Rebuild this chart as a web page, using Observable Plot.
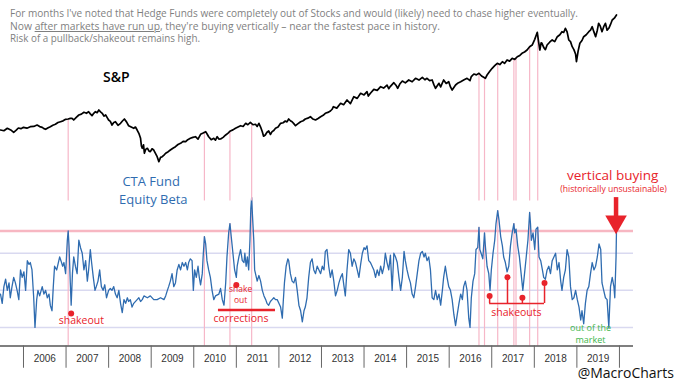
<!DOCTYPE html>
<html><head><meta charset="utf-8">
<script src="https://cdn.jsdelivr.net/npm/d3@7"></script>
<script src="https://cdn.jsdelivr.net/npm/@observablehq/plot@0.6"></script>
<style>
body{margin:0;background:#fff;}
#chart{position:relative;width:680px;height:383px;overflow:hidden;background:#fff;}
#chart svg{position:absolute;left:0;top:0;}
#title{position:absolute;left:10px;top:7px;font-family:"Open Sans",sans-serif;font-size:10.5px;line-height:12.5px;color:#7f7f7f;z-index:5;white-space:nowrap;}
#title div{width:max-content;transform-origin:left center;}
#title u{text-decoration-thickness:1px;text-underline-offset:1px;}
</style></head><body>
<div id="chart">
<div id="title">
<div>For months I've noted that Hedge Funds were completely out of Stocks and would (likely) need to chase higher eventually.</div>
<div>Now <u>after markets have run up</u>, they're buying vertically – near the fastest pace in history.</div>
<div>Risk of a pullback/shakeout remains high.</div>
</div>
</div>
<script>
// ---------- DATA ----------
const ctaYear = [2005.46,2005.50,2005.54,2005.58,2005.62,2005.66,2005.69,2005.73,2005.77,2005.81,2005.85,2005.89,2005.93,2005.97,2006.01,2006.05,2006.09,2006.13,2006.16,2006.20,2006.24,2006.27,2006.31,2006.34,2006.38,2006.44,2006.48,2006.52,2006.56,2006.60,2006.63,2006.67,2006.70,2006.73,2006.78,2006.81,2006.85,2006.88,2006.92,2006.95,2006.99,2007.03,2007.05,2007.07,2007.10,2007.12,2007.15,2007.18,2007.22,2007.26,2007.30,2007.34,2007.38,2007.42,2007.46,2007.50,2007.53,2007.57,2007.60,2007.64,2007.68,2007.71,2007.75,2007.79,2007.83,2007.87,2007.91,2007.95,2008.00,2008.04,2008.08,2008.12,2008.16,2008.20,2008.24,2008.28,2008.32,2008.36,2008.40,2008.44,2008.47,2008.51,2008.55,2008.59,2008.67,2008.71,2008.75,2008.79,2008.83,2008.91,2008.98,2009.06,2009.14,2009.22,2009.30,2009.34,2009.38,2009.41,2009.45,2009.49,2009.53,2009.57,2009.61,2009.65,2009.69,2009.73,2009.77,2009.81,2009.85,2009.88,2009.92,2009.96,2009.99,2010.02,2010.06,2010.10,2010.13,2010.16,2010.20,2010.22,2010.25,2010.28,2010.31,2010.35,2010.39,2010.43,2010.47,2010.51,
2010.59,2010.63,2010.67,2010.71,2010.75,2010.78,2010.82,2010.85,2010.88,2010.92,2010.96,2011.00,2011.02,2011.06,2011.10,2011.14,2011.18,2011.20,2011.23,2011.26,2011.29,2011.32,2011.34,2011.36,2011.38,2011.41,2011.43,2011.47,2011.49,2011.53,2011.57,2011.61,2011.65,2011.69,2011.72,2011.76,2011.80,2011.84,2011.88,2011.92,2011.96,2012.00,2012.04,2012.08,2012.10,2012.13,2012.17,2012.21,2012.23,2012.27,2012.31,2012.35,2012.39,2012.43,2012.47,2012.51,2012.55,2012.59,2012.62,2012.66,2012.70,2012.74,2012.78,2012.82,2012.86,2012.90,2012.94,2012.98,2013.02,2013.06,2013.09,2013.13,2013.17,2013.21,2013.25,2013.29,2013.33,2013.37,2013.41,2013.45,2013.49,2013.53,2013.56,2013.60,2013.64,2013.68,2013.72,2013.76,2013.80,2013.84,2013.88,2013.92,2013.96,2014.00,2014.03,2014.07,2014.11,2014.15,2014.19,2014.23,2014.27,2014.31,2014.35,2014.39,2014.43,2014.47,2014.50,2014.54,2014.58,2014.62,2014.66,2014.70,2014.74,2014.78,2014.82,2014.86,2014.90,2014.94,2014.97,2015.01,2015.05,2015.09,2015.13,2015.17,2015.21,2015.25,2015.29,2015.33,2015.37,2015.41,2015.44,2015.48,2015.52,2015.56,
2015.60,2015.64,2015.68,2015.72,2015.76,2015.80,2015.84,2015.87,2015.91,2015.95,2015.99,2016.03,2016.07,2016.11,2016.15,2016.19,2016.23,2016.27,2016.31,2016.34,2016.38,2016.42,2016.46,2016.49,2016.52,2016.56,2016.60,2016.63,2016.67,2016.70,2016.72,2016.75,2016.79,2016.83,2016.85,2016.89,2016.93,2016.96,2016.99,2017.03,2017.07,2017.10,2017.14,2017.17,2017.21,2017.25,2017.28,2017.32,2017.36,2017.40,2017.44,2017.48,2017.52,2017.54,2017.57,2017.61,2017.65,2017.69,2017.73,2017.77,2017.81,2017.85,2017.89,2017.91,2017.93,2017.97,2018.01,2018.04,2018.08,2018.11,2018.15,2018.19,2018.22,2018.26,2018.30,2018.34,2018.38,2018.42,2018.46,2018.50,2018.54,2018.58,2018.62,2018.65,2018.69,2018.73,2018.77,2018.81,2018.85,2018.89,2018.93,2018.97,2019.01,2019.05,2019.09,2019.12,2019.16,2019.20,2019.24,2019.28,2019.32,2019.36,2019.40,2019.44,2019.48,2019.52,2019.56,2019.59,2019.63,2019.67,2019.71,2019.75,2019.79,2019.83,2019.87,2019.89,2019.92,2019.93];
const ctaBeta = [28,23,32,36,30,34,26,32,37,34,30,25,41,37,40,30,46,44,45,41,26,10,25,30,27,32,28,30,26,28,22,19,32,43,41,44,48,46,43,45,39,57,62,54,34,22,39,48,43,39,57,53,50,41,46,35,41,52,45,37,30,32,35,41,32,30,33,26,30,31,30,32,28,26,30,23,18,25,23,26,24,25,21,23,25,26,24,25,27,26,27,25,25,26,25,27,30,32,35,39,32,34,41,44,41,45,43,45,41,45,47,46,30,41,37,43,37,33,39,48,59,55,46,41,37,30,25,27,
28,31,25,22,34,48,61,66,59,50,41,37,43,48,52,46,45,50,43,48,41,57,74,80,70,57,41,37,35,38,35,30,27,25,23,22,24,25,26,25,25,23,21,15,23,34,43,47,46,39,35,34,37,30,22,19,13,19,21,26,37,45,47,41,39,43,41,39,43,41,51,52,43,37,41,35,27,30,34,37,39,32,27,41,52,50,43,47,45,41,37,44,50,53,52,54,46,45,43,41,37,41,38,43,39,43,50,45,41,49,30,50,48,45,37,30,37,51,46,41,37,34,28,26,32,39,46,50,51,48,50,46,48,41,
26,25,30,25,28,22,30,37,43,37,32,30,25,17,11,17,23,28,25,32,35,30,15,10,26,35,39,52,53,64,52,50,47,61,54,43,39,30,41,50,57,66,73,68,59,54,48,45,40,43,54,61,66,61,63,54,48,39,30,39,48,57,72,66,57,61,52,63,64,48,46,41,37,36,41,43,39,46,48,50,41,45,35,30,37,41,52,48,32,25,26,30,25,21,14,19,12,23,30,32,39,45,41,43,48,55,52,34,30,26,25,10,32,37,32,26,48,62];

const spYear = [2005.46,2005.54,2005.62,2005.70,2005.77,2005.83,2005.88,2005.94,2006.00,2006.08,2006.16,2006.24,2006.32,2006.38,2006.44,2006.48,2006.52,2006.58,2006.63,2006.69,2006.75,2006.81,2006.87,2006.93,2006.99,2007.05,2007.10,2007.14,2007.18,2007.24,2007.30,2007.36,2007.42,2007.48,2007.53,2007.57,2007.61,2007.65,2007.69,2007.73,2007.77,2007.81,2007.85,2007.89,2007.93,2007.97,2008.00,2008.04,2008.08,2008.12,2008.16,2008.22,2008.28,2008.33,2008.37,2008.42,2008.47,2008.53,2008.59,2008.63,2008.67,2008.71,2008.75,2008.77,2008.79,2008.82,2008.84,2008.87,2008.91,2008.95,2008.98,2009.02,2009.06,2009.10,2009.14,2009.16,2009.18,2009.22,2009.26,2009.30,2009.34,2009.40,2009.45,2009.51,2009.57,2009.63,2009.69,2009.75,2009.81,2009.86,2009.92,2009.98,2010.04,2010.10,2010.16,2010.22,2010.28,2010.32,2010.35,2010.41,2010.47,2010.51,2010.55,2010.59,2010.63,2010.69,2010.75,2010.80,2010.86,2010.92,2010.98,2011.04,2011.10,2011.16,2011.22,2011.27,2011.33,2011.39,2011.45,2011.49,2011.53,2011.57,2011.61,2011.64,2011.68,2011.72,2011.76,2011.80,2011.84,2011.88,2011.92,2011.98,2012.04,2012.10,2012.15,2012.19,2012.23,2012.27,2012.31,2012.35,2012.39,2012.45,2012.51,2012.57,2012.62,2012.68,2012.74,2012.80,2012.86,2012.92,2012.98,2013.04,2013.09,2013.15,2013.21,2013.25,2013.28,2013.36,2013.45,2013.52,2013.60,2013.68,2013.76,2013.84,2013.92,2014.00,2014.07,2014.10,2014.15,2014.23,2014.31,2014.39,2014.46,2014.54,2014.58,2014.62,2014.70,2014.75,2014.79,2014.84,2014.90,2014.97,2015.05,2015.13,2015.21,2015.29,2015.37,2015.43,2015.48,2015.54,2015.60,2015.64,2015.68,2015.72,2015.76,2015.80,2015.87,2015.93,2015.99,2016.03,2016.07,2016.11,2016.15,2016.21,2016.27,2016.34,2016.42,2016.49,2016.52,2016.58,2016.64,2016.70,2016.76,2016.81,2016.85,2016.89,2016.95,2017.01,2017.07,2017.13,2017.19,2017.25,2017.30,2017.36,2017.42,2017.48,2017.54,2017.60,2017.66,2017.71,2017.77,2017.83,2017.89,2017.95,2018.01,2018.07,2018.10,2018.13,2018.16,2018.18,2018.22,2018.26,2018.30,2018.36,2018.42,2018.48,2018.54,2018.60,2018.65,2018.69,2018.73,2018.77,2018.81,2018.85,2018.89,2018.93,2018.97,2018.99,2019.03,2019.07,2019.12,2019.16,2019.22,2019.28,2019.32,2019.36,2019.40,2019.44,2019.48,2019.51,2019.55,2019.59,2019.63,2019.67,2019.71,2019.75,2019.79,2019.83,2019.88,2019.93];
const spClose = [1238,1225,1268,1240,1198,1235,1273,1262,1285,1270,1296,1300,1325,1298,1285,1262,1250,1278,1296,1322,1338,1368,1383,1398,1425,1430,1442,1440,1413,1460,1500,1515,1547,1530,1558,1520,1488,1530,1558,1540,1587,1555,1530,1480,1500,1450,1413,1390,1325,1370,1383,1320,1355,1400,1430,1380,1313,1290,1268,1290,1238,1180,1093,960,919,980,832,900,919,870,860,910,889,830,772,730,685,760,772,800,832,860,889,920,947,985,1006,1040,1034,1070,1093,1110,1121,1080,1163,1185,1209,1160,1121,1070,1093,1060,1121,1080,1081,1110,1151,1180,1221,1240,1268,1290,1313,1300,1355,1330,1373,1330,1338,1300,1355,1290,1209,1130,1151,1200,1221,1160,1209,1230,1268,1290,1355,1365,1395,1380,1430,1400,1383,1350,1313,1350,1383,1400,1430,1445,1470,1430,1413,1440,1470,1495,1530,1545,1570,1600,1645,1620,1704,1680,1762,1700,1819,1790,1879,1850,1907,1830,1880,1948,1930,1994,1970,2023,1960,2000,2064,2020,1966,2040,2093,2060,2111,2080,2140,2110,2158,2115,2140,2100,2111,2030,1966,2010,2053,1990,2111,2050,2081,1990,1936,1980,2023,2060,2081,2110,2140,2100,2170,2215,2200,2228,2180,2158,2140,2198,2260,2315,2360,2402,2380,2430,2400,2460,2440,2489,2470,2517,2540,2577,2600,2634,2690,2721,2820,2943,2780,2634,2760,2751,2680,2640,2721,2770,2809,2780,2866,2900,2954,2940,3013,2950,2809,2780,2692,2640,2560,2430,2620,2751,2800,2866,2900,2954,2980,3041,2950,2866,2980,3100,3050,2954,3040,3100,2980,3013,3080,3158,3190,3245];

// dates where CTA spikes line up with the S&P (pink connectors)
const pinkYear = [2007.05,2010.25,2010.85,2011.36,2016.70,2016.83,2017.14,2017.52,2017.57,2017.89,2018.08];
const gridLevels = [10,30,50];
const extremeLevel = 62;
const yearStarts = [2006,2007,2008,2009,2010,2011,2012,2013,2014,2015,2016,2017,2018,2019,2020];
const yearLabels = ["2006","2007","2008","2009","2010","2011","2012","2013","2014","2015","2016","2017","2018","2019"];
const shakeoutsYear = [2016.95,2017.37,2017.72,2018.24];
const shakeoutsBeta = [27,37,26,34];

// ---------- BUILD ----------
const cta = ctaYear.map((t,i)=>({t, v: ctaBeta[i]}));
const sp = spYear.map((t,i)=>({t, v: spClose[i]}));
const ctaAt = t => cta[d3.minIndex(cta, d => Math.abs(d.t - t))].v;
const spAt = t => {
  const i = Math.max(1, Math.min(sp.length-1, d3.bisector(d=>d.t).left(sp, t)));
  const a = sp[i-1], b = sp[i];
  return a.v + (b.v-a.v)*(t-a.t)/(b.t-a.t);
};
const pinkEvents = pinkYear.map(t => ({t, cta: ctaAt(t), sp: spAt(t)}));
const shakeouts = shakeoutsYear.map((t,i)=>({t, v: shakeoutsBeta[i]}));
const yearMid = yearLabels.map(s => +s + 0.5);

const xDomain = [2005.46, 2020.33];
const RED = "#e8232b", PINK = "#f6b7c8", BLUE = "#2f6cb0", GREEN = "#3cb54a";
const hand = "Open Sans";

const ctaPlot = Plot.plot({
  width: 680, height: 383,
  marginTop: 160, marginBottom: 37.5, marginLeft: 0, marginRight: 47,
  x: {domain: xDomain, axis: null, label: null},
  y: {domain: [0, 100], axis: null, label: null},
  style: {background: "transparent", overflow: "visible", fontFamily: hand},
  marks: [
    Plot.ruleY(gridLevels, {stroke: "#d9d9f0", strokeWidth: 1.5}),
    Plot.ruleY([extremeLevel], {stroke: "#f7b7c2", strokeWidth: 2.5}),
    Plot.ruleX(pinkEvents, {x: "t", y2: "cta", stroke: PINK, strokeWidth: 1.2}),
    Plot.line(cta, {x: "t", y: "v", stroke: BLUE, strokeWidth: 1.3}),
    Plot.ruleY([0], {stroke: "#555", strokeWidth: 1.3}),
    Plot.ruleX(yearStarts, {y1: 0, y2: -12, stroke: "#666", strokeWidth: 1}),
    Plot.axisX({ticks: yearMid, tickSize: 0, tickPadding: 9, tickFormat: d => String(Math.floor(d)),
      label: null, fontFamily: "Liberation Sans", fontSize: 10, color: "#333"}),
    // labels
    Plot.text(["CTA Fund"], {x: 2009.0, y: 88.4, fill: BLUE, fontSize: 13, fontFamily: hand}),
    Plot.text(["Equity Beta"], {x: 2009.05, y: 78.7, fill: BLUE, fontSize: 13, fontFamily: hand}),
    Plot.text(["vertical buying"], {x: 2019.84, y: 92, fill: RED, fontSize: 13.5, fontFamily: hand}),
    Plot.text(["(historically unsustainable)"], {x: 2019.86, y: 84.6, fill: RED, fontSize: 8.6, fontFamily: hand}),
    Plot.ruleX([2019.92], {y1: 80, y2: 67, stroke: RED, strokeWidth: 4.5}),
    Plot.dot([2019.92], {x: d => d, y: 67, symbol: "triangle", r: 8, rotate: 180, fill: RED}),
    // 2007 shakeout
    Plot.dot([2007.12], {x: d => d, y: 17.5, r: 3, fill: RED}),
    Plot.text(["shakeout"], {x: 2007.36, y: 13.7, fill: RED, fontSize: 10.5, fontFamily: hand}),
    // 2010-2011
    Plot.dot([2011.0], {x: d => d, y: 32.9, r: 3, fill: RED}),
    Plot.text(["shake"], {x: 2011.10, y: 30.4, fill: RED, fontSize: 8.5, fontFamily: hand}),
    Plot.text(["out"], {x: 2011.10, y: 24.4, fill: RED, fontSize: 8.5, fontFamily: hand}),
    Plot.ruleY([19.4], {x1: 2010.58, x2: 2011.92, stroke: RED, strokeWidth: 2.5}),
    Plot.text(["corrections"], {x: 2011.11, y: 14.8, fill: RED, fontSize: 10.5, fontFamily: hand}),
    // 2016-2018 shakeouts
    Plot.ruleX(shakeouts, {x: "t", y1: "v", y2: 22.9, stroke: RED, strokeWidth: 1.5}),
    Plot.ruleY([22.9], {x1: shakeoutsYear[0], x2: shakeoutsYear[3], stroke: RED, strokeWidth: 1.5}),
    Plot.dot(shakeouts, {x: "t", y: "v", r: 3, fill: RED}),
    Plot.text(["shakeouts"], {x: 2017.58, y: 18.2, fill: RED, fontSize: 10.5, fontFamily: hand}),
    // 2019
    Plot.text(["out of the"], {x: 2019.32, y: 9.6, fill: GREEN, fontSize: 9, fontFamily: hand}),
    Plot.text(["market"], {x: 2019.32, y: 3.4, fill: GREEN, fontSize: 9, fontFamily: hand}),
    Plot.text(["@MacroCharts"], {x: 2020.15, y: -14.8, fill: "#111", fontSize: 14, fontFamily: hand})
  ]
});

const spPlot = Plot.plot({
  width: 680, height: 383,
  marginTop: 0, marginBottom: 223, marginLeft: 0, marginRight: 47,
  x: {domain: xDomain, axis: null, label: null},
  y: {domain: [706, 3498], axis: null, label: null},
  style: {background: "transparent", overflow: "visible", fontFamily: hand},
  marks: [
    Plot.ruleX(pinkEvents, {x: "t", y1: "sp", stroke: PINK, strokeWidth: 1.2}),
    Plot.line(sp, {x: "t", y: "v", stroke: "#000", strokeWidth: 1.7}),
    Plot.text(["S&P"], {x: 2008.18, y: 2155, fill: "#000", fontSize: 14, fontWeight: 600, fontFamily: hand})
  ]
});

const chart = document.getElementById("chart");
chart.insertBefore(ctaPlot, chart.firstChild);
chart.insertBefore(spPlot, document.getElementById("title"));

const targets = [568, 430, 190];
document.querySelectorAll("#title div").forEach((el, i) => {
  const w = el.getBoundingClientRect().width;
  el.style.transform = `scaleX(${targets[i] / w})`;
});
</script>
</body></html>
